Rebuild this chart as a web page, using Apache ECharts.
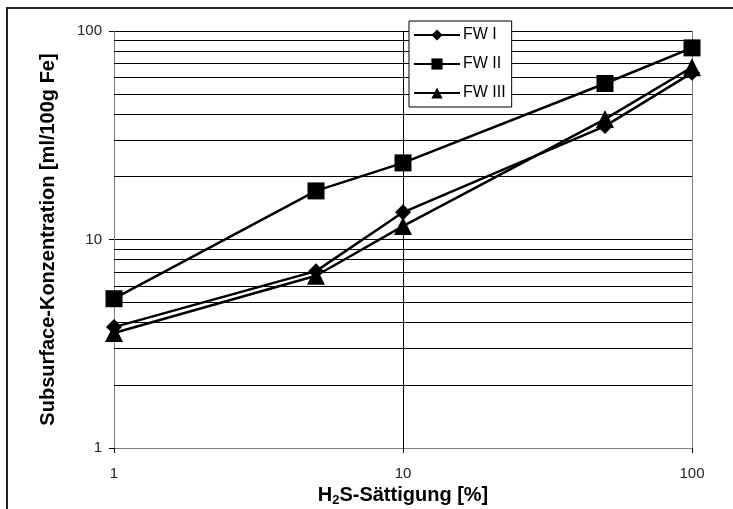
<!DOCTYPE html>
<html><head><meta charset="utf-8">
<script src="https://cdn.jsdelivr.net/npm/echarts@6/dist/echarts.min.js"></script>
<style>html,body{margin:0;padding:0;background:#fff}#c{width:733px;height:509px}</style>
</head><body><div id="c"></div>
<script>
const saturation = [1, 5, 10, 50, 100];
const fw1 = [3.8, 7.05, 13.5, 35, 63];
const fw2 = [5.2, 17.1, 23.3, 56, 83];
const fw3 = [3.56, 6.7, 11.6, 37.8, 67];
const seriesNames = ['FW I', 'FW II', 'FW III'];
const minorGrid = [2,3,4,5,6,7,8,9,20,30,40,50,60,70,80,90];

const font = 'Liberation Sans, Arial, sans-serif';
const chart = echarts.init(document.getElementById('c'), null, {renderer:'canvas'});
function mk(name, vals, symbol, size, withGrid){
  const s = {
    name, type:'line', data: saturation.map((x,i)=>[x, vals[i]]),
    symbol, symbolSize:size, showAllSymbol:true,
    lineStyle:{color:'#000', width:2.5}, itemStyle:{color:'#000'},
    emphasis:{disabled:true}, z:5, animation:false
  };
  if (withGrid) {
    s.markLine = {silent:true, symbol:['none','none'], label:{show:false},
      lineStyle:{color:'#000', width:1, type:'solid'}, animation:false, z:1,
      data: minorGrid.map(v=>({yAxis:v}))};
  }
  return s;
}
chart.setOption({
  animation:false,
  backgroundColor:'#fff',
  graphic:[{type:'rect', shape:{x:7, y:8, width:800, height:600}, style:{fill:'none', stroke:'#222', lineWidth:2}, silent:true}],
  grid:{left:114, right:41, top:31, bottom:61, containLabel:false, outerBoundsMode:'none'},
  legend:{
    orient:'vertical', left:409, top:21, data:seriesNames,
    itemWidth:46, itemHeight:14, itemGap:13, padding:[6,6,6,4],
    borderColor:'#000', borderWidth:1, backgroundColor:'#fff',
    textStyle:{fontFamily:font, fontSize:16, color:'#000', padding:[0,0,0,-2]}
  },
  xAxis:{
    type:'log', logBase:10, min:1, max:100,
    name:'{a|H}{b|2}{a|S-Sättigung [%]}', nameLocation:'middle', nameGap:34,
    nameTextStyle:{rich:{
      a:{fontFamily:font, fontSize:20, fontWeight:'bold', color:'#000'},
      b:{fontFamily:font, fontSize:13, fontWeight:'bold', color:'#000', padding:[10,0,0,0]}
    }},
    axisLine:{lineStyle:{color:'#808080', width:1}},
    axisTick:{show:true, length:5, inside:false, lineStyle:{color:'#000'}},
    axisLabel:{fontFamily:font, fontSize:15, color:'#222', margin:18},
    splitLine:{show:true, lineStyle:{color:['#808080','#000','#808080'], width:1}},
    minorTick:{show:false}
  },
  yAxis:{
    type:'log', logBase:10, min:1, max:100,
    name:'Subsurface-Konzentration [ml/100g Fe]', nameLocation:'middle', nameGap:56,
    nameTextStyle:{fontFamily:font, fontSize:20, fontWeight:'bold', color:'#000'},
    axisLine:{lineStyle:{color:'#808080', width:1}},
    axisTick:{show:true, length:5, inside:false, lineStyle:{color:'#000'}},
    axisLabel:{fontFamily:font, fontSize:15, color:'#222', margin:12},
    splitLine:{show:true, lineStyle:{color:['#808080','#000','#000'], width:1}}
  },
  series:[
    mk(seriesNames[0], fw1, 'diamond', 16, true),
    mk(seriesNames[1], fw2, 'rect', 17, false),
    mk(seriesNames[2], fw3, 'triangle', 18, false)
  ]
});
</script></body></html>
